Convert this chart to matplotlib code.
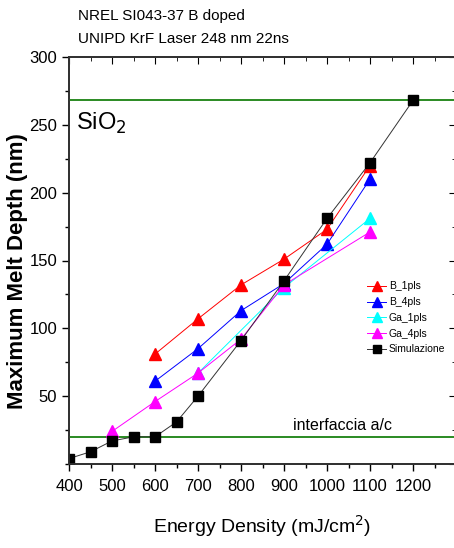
import matplotlib
matplotlib.use("Agg")
import matplotlib.pyplot as plt
from matplotlib.ticker import MultipleLocator, FixedLocator

plt.rcParams['font.family'] = ['Liberation Sans', 'DejaVu Sans']

# data
x_b1 = [600, 700, 800, 900, 1000, 1100]
y_b1 = [81, 107, 132, 151, 173, 220]
x_b4 = [600, 700, 800, 900, 1000, 1100]
y_b4 = [61, 85, 113, 133, 162, 210]
x_ga1 = [700, 900, 1100]
y_ga1 = [67, 130, 181]
x_ga4 = [500, 600, 700, 800, 900, 1100]
y_ga4 = [24, 46, 67, 92, 132, 171]
x_sim = [400, 450, 500, 550, 600, 650, 700, 800, 900, 1000, 1100, 1200]
y_sim = [4, 9, 17, 20, 20, 31, 50, 91, 135, 181, 222, 268]

sio2_level = 268
interface_level = 20

fig = plt.figure(figsize=(4.54, 5.48), dpi=100)
ax = fig.add_axes([69 / 454, 1 - 464 / 548, 387 / 454, (464 - 57) / 548])

green = "#2a8a22"
ax.axhline(sio2_level, color=green, lw=1.4, zorder=1)
ax.axhline(interface_level, color=green, lw=1.4, zorder=1)

ax.plot(x_b1, y_b1, color="red", lw=0.7, marker="^", ms=8, mec="red", label="B_1pls")
ax.plot(x_b4, y_b4, color="blue", lw=0.7, marker="^", ms=8, mec="blue", label="B_4pls")
ax.plot(x_ga1, y_ga1, color="cyan", lw=0.7, marker="^", ms=8, mec="cyan", label="Ga_1pls")
ax.plot(x_ga4, y_ga4, color="magenta", lw=0.7, marker="^", ms=8, mec="magenta", label="Ga_4pls")
ax.plot(x_sim, y_sim, color="#333333", lw=0.7, marker="s", ms=6.5, mfc="black", mec="black",
        label="Simulazione")

ax.set_xlim(400, 1300)
ax.set_ylim(0, 300)

ax.xaxis.set_major_locator(FixedLocator(range(400, 1300, 100)))
ax.xaxis.set_minor_locator(MultipleLocator(50))
ax.yaxis.set_major_locator(FixedLocator(range(50, 301, 50)))
ax.yaxis.set_minor_locator(MultipleLocator(25))

ax.tick_params(axis="both", which="both", direction="out", labelsize=12, width=1)
ax.tick_params(axis="both", which="major", length=5)
ax.tick_params(axis="both", which="minor", length=3)
ax.tick_params(axis="x", which="major", pad=6)

# inward ticks on top and right
ax2 = ax.twinx()
ax2.set_ylim(0, 300)
ax2.yaxis.set_major_locator(MultipleLocator(50))
ax2.yaxis.set_minor_locator(MultipleLocator(25))
ax2.tick_params(axis="y", which="both", direction="in", labelright=False)
ax2.tick_params(axis="y", which="major", length=5)
ax2.tick_params(axis="y", which="minor", length=3)
ax3 = ax.twiny()
ax3.set_xlim(400, 1300)
ax3.xaxis.set_major_locator(MultipleLocator(100))
ax3.xaxis.set_minor_locator(MultipleLocator(50))
ax3.tick_params(axis="x", which="both", direction="in", labeltop=False)
ax3.tick_params(axis="x", which="major", length=5)
ax3.tick_params(axis="x", which="minor", length=3)

for a in (ax, ax2, ax3):
    for s in a.spines.values():
        s.set_linewidth(1.2)
        s.set_color("#333333")

ax.set_xlabel("Energy Density (mJ/cm$^2$)", fontsize=14)
ax.xaxis.set_label_coords(0.499, -0.12)
ax.set_ylabel("Maximum Melt Depth (nm)", fontsize=16, fontweight="bold")
ax.yaxis.set_label_coords(-0.105, 0.474)

ax.text(416, 246, "SiO$_2$", fontsize=17)
ax.text(921, 25, "interfaccia a/c", fontsize=11.5)

fig.text(78 / 454, 1 - 16 / 548, "NREL SI043-37 B doped", fontsize=11, va="center")
fig.text(78 / 454, 1 - 39 / 548, "UNIPD KrF Laser 248 nm 22ns", fontsize=11, va="center")

ax.legend(loc="center left", bbox_to_anchor=(0.76, 0.359), frameon=False, fontsize=7.5,
          handlelength=1.8, handletextpad=0.25, labelspacing=0.55, borderaxespad=0,
          markerscale=0.85)
ax.set_zorder(ax3.get_zorder() + 1)
ax.patch.set_visible(False)

fig.savefig("out.png", dpi=100)
